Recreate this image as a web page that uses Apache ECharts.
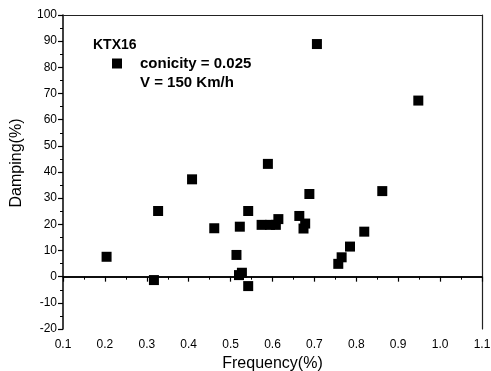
<!DOCTYPE html>
<html><head><meta charset="utf-8">
<script src="https://cdn.jsdelivr.net/npm/echarts@6/dist/echarts.min.js"></script>
<style>html,body{margin:0;padding:0;background:#fff}#c{width:491px;height:371px}</style>
</head><body><div id="c"></div>
<script>
const frequency = [0.204, 0.317, 0.327, 0.408, 0.461, 0.514, 0.522, 0.520, 0.527, 0.542, 0.542, 0.574, 0.589, 0.594, 0.608, 0.614, 0.664, 0.678, 0.674, 0.688, 0.706, 0.757, 0.765, 0.785, 0.819, 0.862, 0.948];
const damping   = [7.6, -1.3, 25.1, 37.2, 18.5, 8.3, 19.1, 0.6, 1.5, -3.6, 25.1, 19.8, 43.1, 19.8, 19.8, 22.0, 23.2, 20.3, 18.4, 31.6, 88.9, 4.9, 7.4, 11.5, 17.2, 32.7, 67.3];
const seriesName = 'conicity = 0.025';
const titleText = 'KTX16';
const subLabel = 'V = 150 Km/h';
const xName = 'Frequency(%)';
const yName = 'Damping(%)';

const font = 'Liberation Sans, Arial, sans-serif';
const chart = echarts.init(document.getElementById('c'));
chart.setOption({
  animation: false,
  backgroundColor: '#fff',
  title: { text: titleText, left: 93, top: 37, padding: 0, textStyle: { fontFamily: font, fontSize: 14, fontWeight: 'bold', color: '#000', lineHeight: 16 } },
  legend: {
    left: 112, top: 56, padding: 0, icon: 'rect', itemWidth: 10, itemHeight: 10,
    data: [seriesName],
    textStyle: { fontFamily: font, fontSize: 15, fontWeight: 'bold', color: '#000', lineHeight: 15, padding: [0, 0, 0, 13] }
  },
  graphic: [{ type: 'text', left: 140, top: 75, style: { text: subLabel, font: 'bold 15px ' + font, fill: '#000' } }],
  grid: { left: 63, right: 9, top: 15, bottom: 42, containLabel: false, outerBoundsMode: 'none' },
  xAxis: [{
    type: 'value', min: 0.1, max: 1.1, interval: 0.1,
    name: xName, nameLocation: 'middle', nameGap: 26,
    nameTextStyle: { fontFamily: font, fontSize: 16, color: '#000' },
    axisLine: { lineStyle: { color: '#000', width: 1.5 } },
    axisTick: { show: true, inside: false, length: 5, lineStyle: { color: '#000', width: 1.2 } },
    minorTick: { show: true, splitNumber: 2, length: 3, lineStyle: { color: '#000' } },
    axisLabel: { fontFamily: font, fontSize: 12, color: '#000', margin: 10, formatter: v => v.toFixed(1) },
    splitLine: { show: false }
  }, {
    type: 'value', position: 'top', min: 0.1, max: 1.1,
    axisLine: { show: true, onZero: false, lineStyle: { color: '#222', width: 1.2 } },
    axisTick: { show: false }, axisLabel: { show: false }, splitLine: { show: false }
  }],
  yAxis: [{
    type: 'value', min: -20, max: 100, interval: 10,
    name: yName, nameLocation: 'middle', nameGap: 38,
    nameTextStyle: { fontFamily: font, fontSize: 16, color: '#000', padding: [0, 0, 0, 18] },
    axisLine: { show: true, lineStyle: { color: '#000', width: 1.5 } },
    axisTick: { show: true, length: 5, lineStyle: { color: '#000', width: 1.2 } },
    minorTick: { show: true, splitNumber: 2, length: 3, lineStyle: { color: '#000' } },
    axisLabel: { fontFamily: font, fontSize: 12, color: '#000', margin: 6 },
    splitLine: { show: false }
  }, {
    type: 'value', position: 'right', min: -20, max: 100,
    axisLine: { show: true, onZero: false, lineStyle: { color: '#222', width: 1.2 } },
    axisTick: { show: false }, axisLabel: { show: false }, splitLine: { show: false }
  }],
  series: [{
    name: seriesName, type: 'scatter', symbol: 'rect', symbolSize: 10,
    itemStyle: { color: '#000', opacity: 1 },
    data: frequency.map((f, i) => [f, damping[i]]),
    markLine: {
      silent: true, symbol: 'none', label: { show: false },
      lineStyle: { color: '#000', width: 1.5, type: 'solid' },
      data: [{ yAxis: 0 }]
    }
  }]
});
</script></body></html>
